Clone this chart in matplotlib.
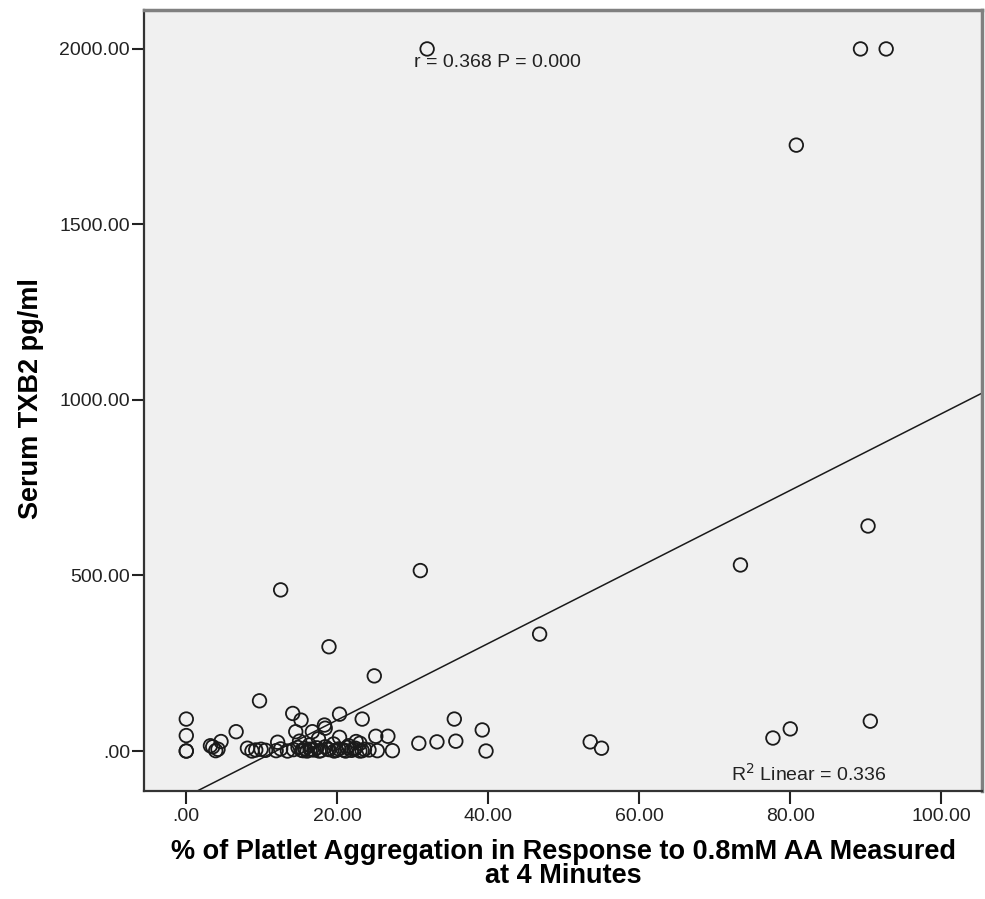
import numpy as np
import matplotlib.pyplot as plt

# % platelet aggregation (x) and serum TXB2 pg/ml (y)
agg = [31.9, 89.3, 92.7, 80.8, 90.3, 73.4, 46.8, 12.5, 31.0, 18.9, 24.9, 9.7,
       90.6, 80.0, 77.7, 53.5, 55.0, 35.5, 39.2, 39.7, 30.8, 33.2, 35.7,
       0.0, 0.0, 0.0, 0.0, 6.6, 3.5, 4.6, 3.9, 3.2, 4.2,
       14.1, 15.2, 20.3, 23.3, 18.4, 18.3, 14.5, 16.7, 20.3, 25.1, 26.7,
       12.1, 22.5, 25.3, 27.3, 15.0, 16.3, 17.5, 19.5, 21.5, 23.0,
       8.1, 8.7, 9.2, 9.9, 10.5, 11.9, 12.5, 13.4, 14.2, 14.8, 15.3, 15.7,
       16.0, 16.4, 16.9, 17.3, 17.8, 18.4, 18.9, 19.6, 20.2, 20.8, 21.3,
       21.9, 22.4, 23.0, 23.6, 24.2,
       15.5, 16.6, 17.6, 18.7, 19.9, 21.1, 22.2, 23.3]
txb2 = [2000, 2000, 2000, 1726, 641, 530, 333, 459, 514, 297, 214, 143,
        85, 63, 37, 26, 8, 91, 60, 0, 22, 26, 28,
        91, 44, 0, 0, 55, 12, 27, 1, 15, 5,
        107, 88, 105, 91, 65, 74, 55, 55, 39, 42, 42,
        25, 27, 1, 1, 28, 17, 35, 20, 15, 22,
        8, 0, 3, 5, 2, 1, 6, 0, 4, 10, 2, 7,
        0, 5, 3, 9, 1, 12, 4, 0, 6, 3, 10,
        2, 8, 0, 5, 3,
        1, 4, 0, 6, 2, 0, 5, 1]

xticks = [0, 20, 40, 60, 80, 100]
yticks = [0, 500, 1000, 1500, 2000]

fig = plt.figure(figsize=(9.85, 8.99), dpi=100)
ax = fig.add_axes([0.1462, 0.1201, 0.8508, 0.8688])
ax.set_facecolor('#f0f0f0')

ax.scatter(agg, txb2, s=95, facecolors='none', edgecolors='#1a1a1a',
           linewidths=1.3, zorder=3)

# linear fit line
slope, inter = np.polyfit(agg, txb2, 1)
xl = np.array([-5.6, 105.4])
ax.plot(xl, slope * xl + inter, color='#1a1a1a', lw=1.1, zorder=2)

ax.set_xlim(-5.6, 105.4)
ax.set_ylim(-114, 2111)
ax.set_xticks(xticks)
ax.set_xticklabels(['.00' if t == 0 else f'{t:.2f}' for t in xticks])
ax.set_yticks(yticks)
ax.set_yticklabels(['.00' if t == 0 else f'{t:.2f}' for t in yticks])
ax.tick_params(direction='out', length=9, width=1.5, labelsize=14,
               colors='#222222')
ax.tick_params(axis='x', pad=3)
ax.tick_params(axis='y', pad=1)
for lab in ax.get_xticklabels() + ax.get_yticklabels():
    lab.set_family('Liberation Sans')

for s in ['left', 'bottom']:
    ax.spines[s].set_color('#333333')
    ax.spines[s].set_linewidth(1.6)
for s in ['top', 'right']:
    ax.spines[s].set_color('#808080')
    ax.spines[s].set_linewidth(2.5)

ax.text(0.322, 0.933, 'r = 0.368 P = 0.000', transform=ax.transAxes,
        fontsize=14, family='Liberation Sans', color='#222222', ha='left', va='center')
ax.text(0.700, 0.022, 'R$^2$ Linear = 0.336', transform=ax.transAxes,
        fontsize=14, family='Liberation Sans', color='#222222', ha='left', va='center')

ax.set_xlabel('% of Platlet Aggregation in Response to 0.8mM AA Measured\nat 4 Minutes',
              fontsize=19.5, fontweight='bold', family='Liberation Sans',
              linespacing=0.92, labelpad=10)
ax.set_ylabel('Serum TXB2 pg/ml', fontsize=19.5, fontweight='bold',
              family='Liberation Sans')
ax.yaxis.set_label_coords(-0.119, 0.503)

fig.savefig('out.png', dpi=100)
